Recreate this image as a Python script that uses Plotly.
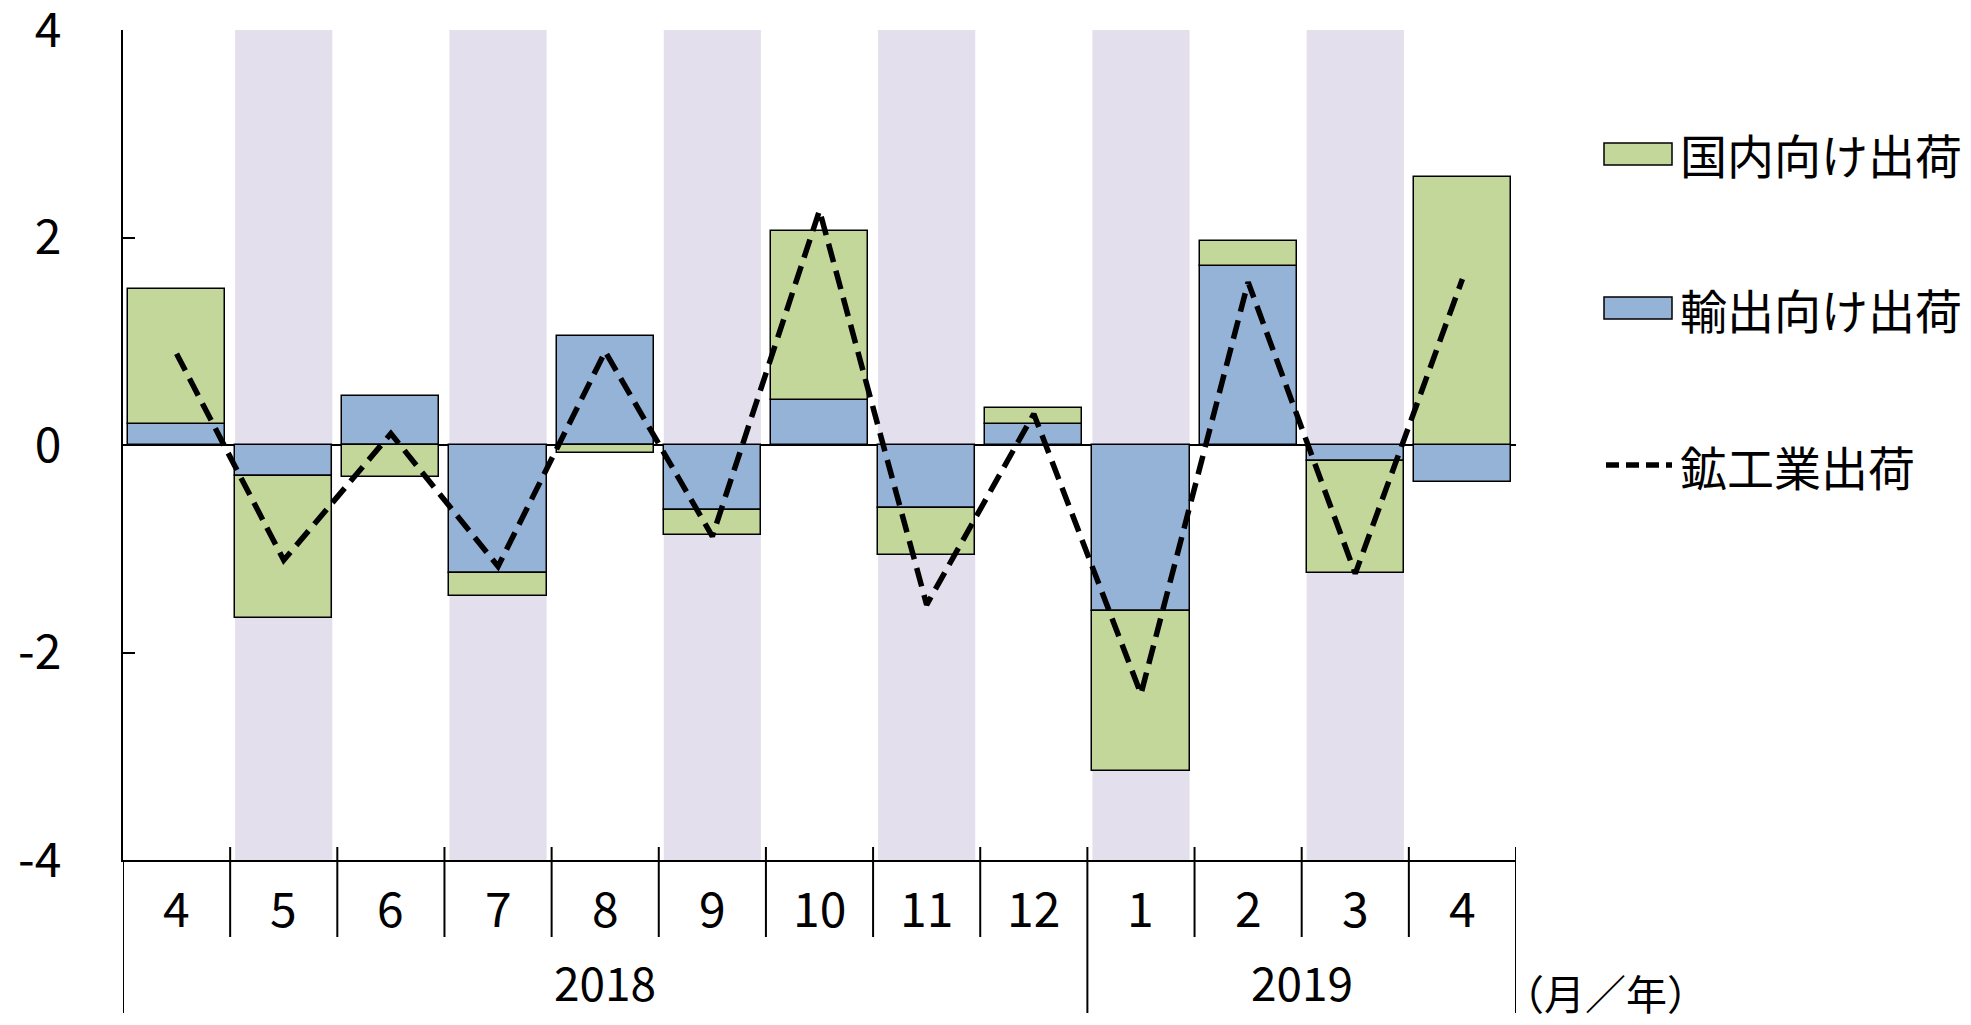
import plotly.graph_objects as go

# ---- data ----
months = ["4", "5", "6", "7", "8", "9", "10", "11", "12", "1", "2", "3", "4"]
years = ["2018", "2019"]
year_spans = [(0, 8), (9, 12)]  # category index ranges per year
export_ship = [0.20, -0.30, 0.47, -1.23, 1.05, -0.63, 0.43, -0.61, 0.20, -1.60, 1.73, -0.15, -0.36]
domestic_ship = [1.30, -1.37, -0.31, -0.23, -0.08, -0.24, 1.63, -0.45, 0.16, -1.54, 0.24, -1.08, 2.58]
total_ship = [0.88, -1.11, 0.11, -1.17, 0.90, -0.88, 2.26, -1.54, 0.30, -2.40, 1.57, -1.24, 1.60]
ytick_vals = [-4, -2, 0, 2, 4]
ytick_text = ["-4", "-2", "0", "2", "4"]
legend_names = ["国内向け出荷", "輸出向け出荷", "鉱工業出荷"]
unit_label = "（月／年）"

GREEN = "#C4D79B"
BLUE = "#95B3D7"
BAND = "#E4DFEC"
CJK = "Noto Sans CJK JP"
NUM = "Noto Sans CJK JP"

# page is 1971x1025 with an 8px body margin around the figure
OFF = 8
W, H = 1971 - 2 * OFF, 1025 - 2 * OFF
PAGE_L, PAGE_R, PAGE_T, PAGE_B = 123, 1516, 30, 860
L, T = PAGE_L - OFF, PAGE_T - OFF
R, B = W - (PAGE_R - OFF), H - (PAGE_B - OFF)
PW, PH = W - L - R, H - T - B


def px_x(p):
    return (p - PAGE_L) / PW


def px_y(p):
    return (PAGE_B - p) / PH


x = list(range(len(months)))
BW = 0.907

fig = go.Figure()
fig.add_trace(go.Bar(x=x, y=export_ship, name=legend_names[1], width=BW,
                     marker=dict(color=BLUE, line=dict(color="black", width=1.5)),
                     showlegend=False))
fig.add_trace(go.Bar(x=x, y=domestic_ship, name=legend_names[0], width=BW,
                     marker=dict(color=GREEN, line=dict(color="black", width=1.5)),
                     showlegend=False))
fig.add_trace(go.Scatter(x=x, y=total_ship, name=legend_names[2], mode="lines",
                         line=dict(color="black", width=5.5, dash="19px,9px"),
                         showlegend=False))

shapes = []
# shaded alternate-month bands
for i in x:
    if i % 2 == 1:
        shapes.append(dict(type="rect", xref="x", yref="y", x0=i - BW / 2, x1=i + BW / 2,
                           y0=-4, y1=4, fillcolor=BAND, line=dict(width=0), layer="below"))

# category separators below the axis
y_top, y_mid, y_bot = px_y(847), px_y(937), px_y(1013)
year_bounds = [s for s, e in year_spans] + [len(months)]
for k in range(len(months) + 1):
    xs = k - 0.5
    y1 = y_bot if k in year_bounds else y_mid
    y0 = 0 if k == 0 else y_top
    shapes.append(dict(type="line", xref="x", yref="paper", x0=xs, x1=xs, y0=y0, y1=y1,
                       line=dict(color="black", width=2)))

# manual legend
leg_rows = [154, 308, 465]
box_x0, box_x1 = px_x(1604), px_x(1672)
shapes.append(dict(type="rect", xref="paper", yref="paper", x0=box_x0, x1=box_x1,
                   y0=px_y(leg_rows[0] - 11), y1=px_y(leg_rows[0] + 11),
                   fillcolor=GREEN, line=dict(color="black", width=1.5)))
shapes.append(dict(type="rect", xref="paper", yref="paper", x0=box_x0, x1=box_x1,
                   y0=px_y(leg_rows[1] - 11), y1=px_y(leg_rows[1] + 11),
                   fillcolor=BLUE, line=dict(color="black", width=1.5)))
shapes.append(dict(type="line", xref="paper", yref="paper", x0=px_x(1606), x1=box_x1,
                   y0=px_y(leg_rows[2]), y1=px_y(leg_rows[2]),
                   line=dict(color="black", width=5.5, dash="13px,7px")))

annotations = []
for i, m in enumerate(months):
    annotations.append(dict(x=i, y=px_y(906), xref="x", yref="paper", text=m, showarrow=False,
                            font=dict(family=NUM, size=48, color="black"),
                            xanchor="center", yanchor="middle"))
for yr, (s, e) in zip(years, year_spans):
    annotations.append(dict(x=(s + e) / 2, y=px_y(981), xref="x", yref="paper", text=yr,
                            showarrow=False, font=dict(family=NUM, size=46, color="black"),
                            xanchor="center", yanchor="middle"))
annotations.append(dict(x=px_x(1501), y=px_y(992), xref="paper", yref="paper", text=unit_label,
                        showarrow=False, font=dict(family=CJK, size=41, color="black"),
                        xanchor="left", yanchor="middle"))
for name, row in zip(legend_names, leg_rows):
    annotations.append(dict(x=px_x(1678), y=px_y(row), xref="paper", yref="paper", text=name,
                            showarrow=False, font=dict(family=CJK, size=47, color="black"),
                            xanchor="left", yanchor="middle"))

fig.update_layout(
    template="none",
    width=W, height=H,
    margin=dict(l=L, r=R, t=T, b=B, pad=0, autoexpand=False),
    paper_bgcolor="white", plot_bgcolor="white",
    barmode="relative", bargap=0,
    showlegend=False,
    shapes=shapes, annotations=annotations,
    xaxis=dict(range=[-0.5, len(months) - 0.5], showgrid=False, zeroline=False,
               automargin=False,
               showline=True, linecolor="black", linewidth=2,
               showticklabels=False, ticks=""),
    yaxis=dict(range=[-4, 4], tickvals=ytick_vals, ticktext=ytick_text,
               automargin=False, ticklabeloverflow="allow",
               showgrid=False, zeroline=True, zerolinecolor="black", zerolinewidth=2,
               showline=True, linecolor="black", linewidth=2,
               ticks="inside", ticklen=12, tickwidth=2, tickcolor="black",
               ticklabelstandoff=50,
               tickfont=dict(family=NUM, size=48, color="black")),
)

fig.write_html("out.html")
